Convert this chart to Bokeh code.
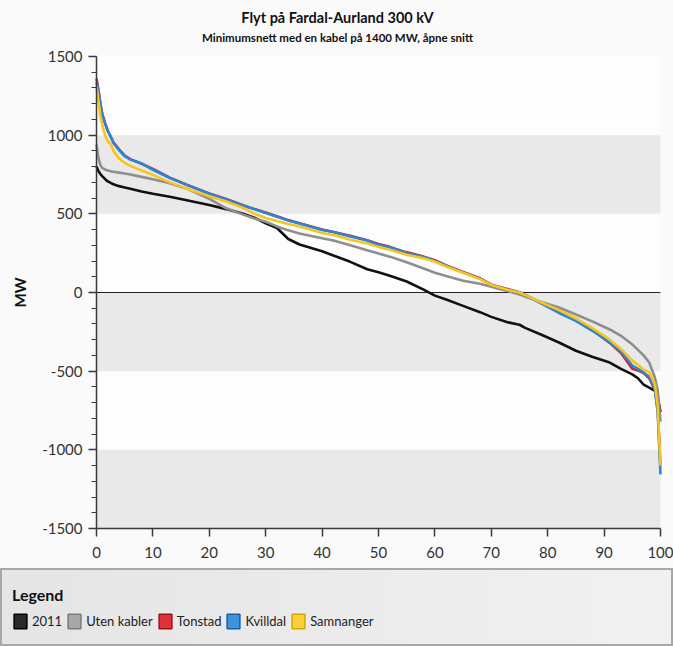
from bokeh.plotting import figure
from bokeh.models import (Range1d, BoxAnnotation, Label, Legend, LegendItem,
                          FixedTicker)
from bokeh.embed import file_html
from bokeh.resources import INLINE

# ---------------- data ----------------
pct = [0, 0.3, 0.7, 1, 1.5, 2, 2.6, 3, 4, 5, 6, 8, 10, 13, 16, 20, 23, 26, 28, 30,
       32, 34, 36, 40, 42, 45, 48, 50, 52, 55, 58, 60, 62, 65, 68, 70, 73, 75, 76,
       79, 82, 85, 88, 91, 93, 95, 96, 97, 98, 99, 99.5, 100]

s2011 = [800, 775, 752, 740, 722, 706, 695, 688, 676, 668, 660, 642, 628, 608, 586,
         556, 530, 500, 475, 440, 410, 340, 305, 262, 235, 195, 148, 128, 107, 70,
         18, -20, -45, -85, -125, -155, -190, -205, -225, -270, -318, -370, -410,
         -445, -485, -520, -545, -585, -605, -625, -665, -760]

uten_kabler = [940, 860, 810, 792, 782, 775, 770, 767, 762, 756, 750, 735, 720, 695,
               660, 595, 535, 495, 470, 450, 420, 395, 375, 345, 330, 300, 268, 248,
               228, 192, 153, 125, 105, 75, 55, 36, 8, -12, -25, -62, -95, -140, -185,
               -235, -275, -330, -365, -400, -445, -540, -620, -820]

tonstad = [1360, 1300, 1200, 1140, 1080, 1030, 985, 955, 910, 870, 848, 818, 785, 730,
           685, 630, 595, 555, 530, 508, 485, 460, 440, 400, 385, 360, 332, 308, 290,
           255, 228, 205, 172, 130, 90, 50, 20, 2, -15, -68, -125, -178, -240, -320,
           -385, -485, -495, -512, -545, -620, -740, -1100]

kvilldal = [1335, 1290, 1195, 1134, 1075, 1025, 984, 950, 905, 866, 845, 820, 780, 728,
            684, 628, 592, 552, 530, 505, 482, 458, 438, 398, 384, 356, 330, 302, 288,
            250, 225, 200, 170, 128, 88, 48, 18, 0, -17, -72, -130, -180, -245, -318,
            -375, -464, -485, -508, -535, -615, -760, -1156]

samnanger = [1310, 1230, 1120, 1070, 1000, 962, 938, 900, 852, 824, 805, 775, 748, 700,
             660, 612, 578, 538, 500, 474, 455, 435, 420, 378, 366, 335, 312, 290, 271,
             240, 217, 195, 165, 125, 85, 47, 16, 0, -17, -65, -112, -165, -228, -300,
             -360, -432, -460, -490, -506, -585, -720, -1100]

series_names = ["2011", "Uten kabler", "Tonstad", "Kvilldal", "Samnanger"]
series_vals = [s2011, uten_kabler, tonstad, kvilldal, samnanger]
series_colors = ["#111111", "#8e8e8e", "#d8202e", "#2a86d6", "#f7c51c"]
icon_fill = ["#2a2a2a", "#a8a8a8", "#e0303a", "#3d93dc", "#fbcf3a"]
icon_lines = ["#000000", "#7a7a7a", "#a01018", "#1a5ea8", "#d9a400"]

y_ticks = [-1500, -1000, -500, 0, 500, 1000, 1500]
y_tick_labels = ["-1500", "-1000", "-500", "0", "500", "1000", "1500"]
x_ticks = [0, 10, 20, 30, 40, 50, 60, 70, 80, 90, 100]
bands = [(500, 1000), (-500, 0), (-1500, -1000)]

title_text = "Flyt på Fardal-Aurland 300 kV"
subtitle_text = "Minimumsnett med en kabel på 1400 MW, åpne snitt"

FONT = "Lato"

# ---------------- geometry (pixels) ----------------
W, H = 673, 646
PX_LEFT, PX_RIGHT = 96, 660      # x = 0 and x = 100
PX_TOP, PX_BOTTOM = 56, 528      # y = 1500 and y = -1500
x0, x1 = x_ticks[0], x_ticks[-1]
y0, y1 = y_ticks[0], y_ticks[-1]
sx = (PX_RIGHT - PX_LEFT) / (x1 - x0)
sy = (PX_BOTTOM - PX_TOP) / (y1 - y0)
x_range = Range1d(x0 - PX_LEFT / sx, x1 + (W - PX_RIGHT) / sx)
y_range = Range1d(y0 - (H - PX_BOTTOM) / sy, y1 + PX_TOP / sy)

# page background with the bottom legend box drawn by CSS layers
bg = ("linear-gradient(to right, #e5e5e5, #f1f1f1) 2px 570px / 669px 74px no-repeat, "
      "linear-gradient(#a8a8a8, #a8a8a8) 0px 568px / 673px 78px no-repeat, "
      "#fafafa")

# ---------------- figure ----------------
p = figure(width=W, height=H, output_backend="svg", toolbar_location=None,
           x_range=x_range, y_range=y_range, min_border=0,
           styles={"background": bg})
p.border_fill_alpha = 0
p.background_fill_alpha = 0
p.outline_line_color = None
p.xgrid.visible = False
p.ygrid.visible = False

# titles
p.add_layout(Label(x=337, y=H - 17, x_units="screen", y_units="screen",
                   text=title_text, text_font=FONT, text_font_size="14.5px",
                   text_font_style="bold", text_color="#111111",
                   text_align="center", text_baseline="middle"))
p.add_layout(Label(x=337, y=H - 37, x_units="screen", y_units="screen",
                   text=subtitle_text, text_font=FONT, text_font_size="11.5px",
                   text_font_style="bold", text_color="#111111",
                   text_align="center", text_baseline="middle"))

# plot area background and bands
p.add_layout(BoxAnnotation(left=x0, right=x1, bottom=y0, top=y1,
                           fill_color="#fdfdfd", fill_alpha=1.0, line_color=None,
                           level="underlay"))
for lo, hi in bands:
    p.add_layout(BoxAnnotation(left=x0, right=x1, bottom=lo, top=hi,
                               fill_color="#e9e9e9", fill_alpha=1.0,
                               line_color=None, level="underlay"))

# zero line
p.line([x0, x1], [0, 0], line_color="#222222", line_width=1.2)

for vals, col in zip(series_vals, series_colors):
    p.line(pct, vals, line_color=col, line_width=2.6)

# axes (fixed inside the full-canvas frame)
p.yaxis.fixed_location = x0
p.xaxis.fixed_location = y0
p.yaxis.bounds = (y0, y1)
p.xaxis.bounds = (x0, x1)
p.yaxis.ticker = FixedTicker(ticks=y_ticks,
                             minor_ticks=list(range(y0, y1 + 1, 100)))
p.yaxis.major_label_overrides = dict(zip(y_ticks, y_tick_labels))
p.xaxis.ticker = FixedTicker(ticks=x_ticks, minor_ticks=[])
for ax in (p.xaxis, p.yaxis):
    ax.axis_line_color = "#3a3a3a"
    ax.axis_line_width = 1.5
    ax.major_tick_line_color = "#3a3a3a"
    ax.major_tick_line_width = 1.5
    ax.major_tick_in = 0
    ax.major_tick_out = 8
    ax.minor_tick_line_color = "#3a3a3a"
    ax.minor_tick_line_width = 1.2
    ax.minor_tick_in = 0
    ax.minor_tick_out = 5
    ax.major_label_text_font = FONT
    ax.major_label_text_font_size = "15px"
    ax.major_label_text_color = "#333333"
p.yaxis.major_label_standoff = 6
p.xaxis.major_label_standoff = 10
p.yaxis.axis_label = "MW"
p.yaxis.axis_label_text_font = FONT
p.yaxis.axis_label_text_font_size = "15px"
p.yaxis.axis_label_text_font_style = "bold"
p.yaxis.axis_label_text_color = "#111111"
p.yaxis.axis_label_standoff = 10

# ---------------- legend ----------------
items = []
nan = float("nan")
for name, fc, lc in zip(series_names, icon_fill, icon_lines):
    r = p.quad(left=[nan], right=[nan], top=[nan], bottom=[nan], fill_color=fc,
               line_color=lc, line_width=1.5)
    items.append(LegendItem(label=name, renderers=[r]))

legend = Legend(items=items, title="Legend", orientation="horizontal",
                location=(12, 16), margin=0, padding=6,
                background_fill_alpha=0, border_line_color=None,
                title_text_font=FONT, title_text_font_size="16px",
                title_text_font_style="bold", title_text_color="#111111",
                title_standoff=8,
                label_text_font=FONT, label_text_font_size="13px",
                label_text_color="#222222", label_standoff=4,
                glyph_width=16, glyph_height=18, spacing=4)
p.add_layout(legend)

open("out.html", "w").write(file_html(p, INLINE))
